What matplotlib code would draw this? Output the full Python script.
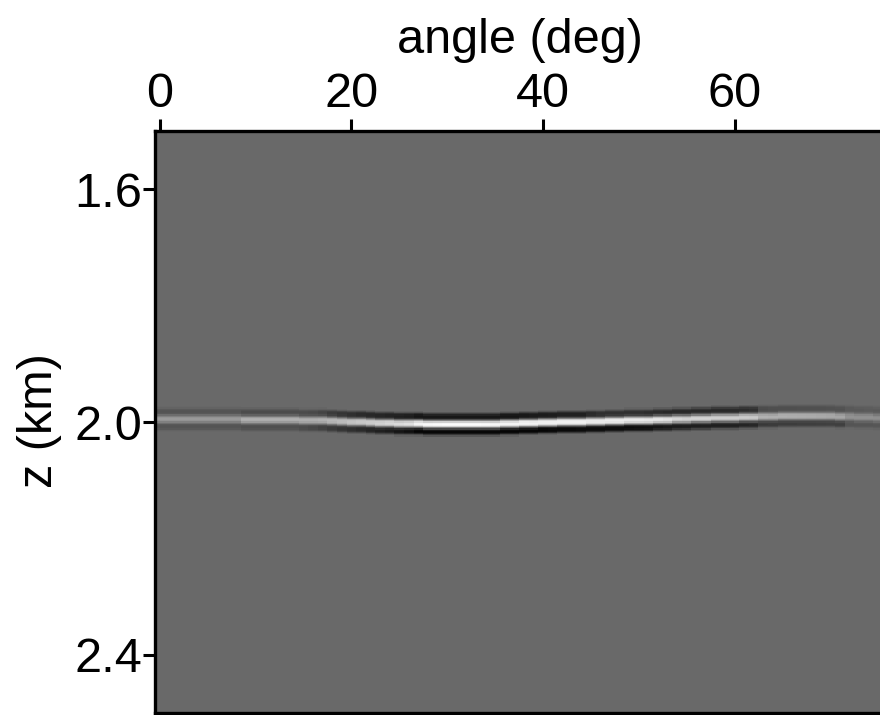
import numpy as np
import matplotlib
matplotlib.use("Agg")
import matplotlib.pyplot as plt

plt.rcParams["font.family"] = ["Liberation Sans", "DejaVu Sans"]

# Angle gather around the reflector at ~2 km depth
angles = np.arange(0, 76, 1.0)  # deg

# depth (km) of the bright peak for each angle
event_depth = [
    1.995, 1.995, 1.995, 1.995, 1.995, 1.995, 1.995, 1.995, 1.995, 1.996,
    1.996, 1.996, 1.996, 1.996, 1.996, 1.997, 1.997, 1.997, 1.998, 1.999,
    2.000, 2.000, 2.001, 2.002, 2.002, 2.003, 2.003, 2.003, 2.004, 2.004,
    2.004, 2.004, 2.004, 2.004, 2.004, 2.004, 2.003, 2.003, 2.002, 2.002,
    2.001, 2.001, 2.000, 2.000, 2.000, 1.999, 1.999, 1.998, 1.998, 1.997,
    1.997, 1.997, 1.996, 1.996, 1.995, 1.995, 1.994, 1.994, 1.993, 1.993,
    1.993, 1.992, 1.992, 1.991, 1.991, 1.990, 1.990, 1.990, 1.990, 1.990,
    1.990, 1.991, 1.991, 1.992, 1.992, 1.993,
]

# amplitude of the bright (positive) lobe
peak_amp = [
    0.48, 0.48, 0.48, 0.48, 0.48, 0.48, 0.48, 0.48, 0.48, 0.67,
    0.67, 0.67, 0.67, 0.67, 0.67, 0.67, 0.67, 0.70, 0.75, 0.80,
    0.85, 0.90, 0.95, 1.00, 1.05, 1.10, 1.15, 1.33, 1.36, 1.38,
    1.40, 1.40, 1.40, 1.40, 1.38, 1.35, 1.33, 1.33, 1.32, 1.30,
    1.30, 1.30, 1.28, 1.28, 1.28, 1.25, 1.25, 1.25, 1.25, 1.25,
    1.25, 1.22, 1.20, 1.15, 1.05, 1.00, 1.00, 1.00, 0.98, 0.96,
    0.95, 0.92, 0.90, 0.70, 0.68, 0.67, 0.66, 0.65, 0.64, 0.62,
    0.60, 0.58, 0.40, 0.38, 0.38, 0.36,
]

# amplitude of the dark lobe just above the peak
upper_amp = [
    -0.20, -0.20, -0.20, -0.20, -0.20, -0.20, -0.20, -0.20, -0.20, -0.28,
    -0.28, -0.28, -0.28, -0.28, -0.28, -0.28, -0.30, -0.35, -0.45, -0.50,
    -0.55, -0.60, -0.62, -0.65, -0.68, -0.70, -0.72, -0.80, -0.80, -0.80,
    -0.80, -0.80, -0.80, -0.80, -0.80, -0.80, -0.80, -0.80, -0.78, -0.76,
    -0.74, -0.72, -0.70, -0.70, -0.70, -0.60, -0.55, -0.55, -0.55, -0.55,
    -0.55, -0.58, -0.60, -0.62, -0.62, -0.62, -0.62, -0.62, -0.62, -0.62,
    -0.60, -0.58, -0.55, -0.28, -0.26, -0.25, -0.25, -0.24, -0.24, -0.24,
    -0.22, -0.22, -0.15, -0.15, -0.14, -0.14,
]

# amplitude of the dark lobe just below the peak
lower_amp = [
    -0.20, -0.20, -0.20, -0.20, -0.20, -0.20, -0.20, -0.20, -0.20, -0.25,
    -0.25, -0.25, -0.25, -0.25, -0.25, -0.28, -0.32, -0.38, -0.45, -0.50,
    -0.55, -0.60, -0.65, -0.70, -0.75, -0.80, -0.85, -0.95, -0.95, -0.95,
    -0.95, -0.95, -0.95, -0.95, -0.95, -0.95, -0.95, -0.95, -0.95, -0.95,
    -0.95, -0.93, -0.92, -0.92, -0.90, -0.88, -0.88, -0.88, -0.88, -0.88,
    -0.86, -0.85, -0.82, -0.78, -0.74, -0.72, -0.72, -0.71, -0.70, -0.70,
    -0.68, -0.66, -0.64, -0.45, -0.44, -0.43, -0.43, -0.42, -0.42, -0.41,
    -0.40, -0.40, -0.20, -0.19, -0.19, -0.18,
]

# lobe spacing (km) relative to the bright peak
lobe_offset_upper = -0.013
lobe_offset_lower = 0.013

# lobe shape: depth offsets (km) and weights
lobe_z = [-0.009, -0.006, -0.004, -0.002, 0.0, 0.002, 0.004, 0.006, 0.009]
lobe_w = [0.0, 0.30, 0.70, 0.95, 1.0, 0.95, 0.70, 0.30, 0.0]

z_top, z_bot, dz = 1.5, 2.5, 0.002
z = np.arange(z_top, z_bot + dz / 2, dz)

image = np.zeros((z.size, angles.size))
for j in range(angles.size):
    d = event_depth[j]
    for off, amp in ((0.0, peak_amp[j]),
                     (lobe_offset_upper, upper_amp[j]),
                     (lobe_offset_lower, lower_amp[j])):
        image[:, j] += amp * np.interp(z - d - off, lobe_z, lobe_w, left=0.0, right=0.0)

fig = plt.figure(figsize=(8.8, 7.15), dpi=100)
ax = fig.add_axes([155 / 880, 2 / 715, 728 / 880, 582 / 715])

ax.imshow(image, cmap="gray", vmin=-1.0, vmax=1.4286, aspect="auto",
          interpolation="nearest",
          extent=[angles[0] - 0.5, angles[-1] + 0.5, z_bot + dz / 2, z_top - dz / 2])
ax.set_xlim(-0.5, 75.5)
ax.set_ylim(2.5, 1.5)

ax.xaxis.tick_top()
ax.xaxis.set_label_position("top")
ax.set_xticks([0, 20, 40, 60])
ax.set_yticks([1.6, 2.0, 2.4])
ax.set_yticklabels(["1.6", "2.0", "2.4"])
ax.set_xlabel("angle (deg)", fontsize=35)
ax.set_ylabel("z (km)", fontsize=35)
ax.xaxis.set_label_coords(0.501, 1.156)
ax.yaxis.set_label_coords(-0.158, 0.503)
ax.xaxis.label.set_va("center")
ax.yaxis.label.set_va("center")
ax.tick_params(axis="both", which="major", labelsize=35, direction="out",
               length=9, width=2.2, color="black")
ax.tick_params(axis="x", pad=1)
ax.tick_params(axis="y", pad=0)
for s in ax.spines.values():
    s.set_linewidth(2.4)

fig.savefig("out.png", dpi=100)
